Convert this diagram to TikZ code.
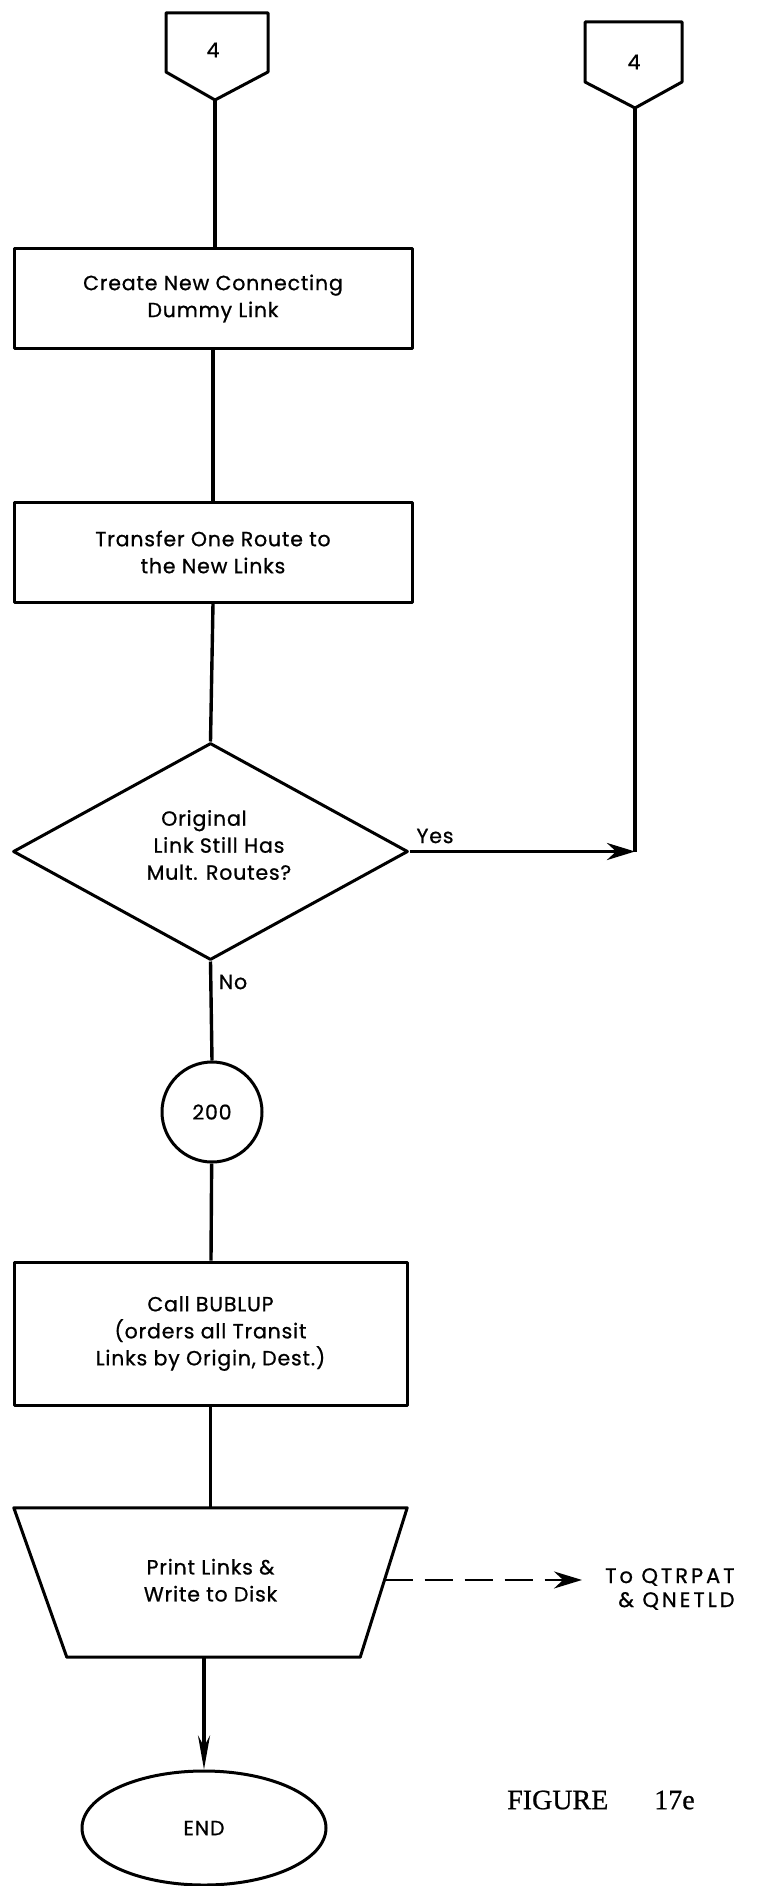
\documentclass[tikz,border=0pt]{standalone}
\usepackage{fontspec}
\setmainfont{Poppins}[LetterSpace=4, UprightFeatures={FakeBold=0.8}]
\newfontfamily\widecaps{Poppins}[LetterSpace=14, UprightFeatures={FakeBold=0.8}]
\newfontfamily\figfont{Liberation Serif}[UprightFeatures={FakeBold=0.8}]
\usetikzlibrary{shapes.geometric,arrows.meta,calc}
\begin{document}
\begin{tikzpicture}[x=1pt,y=-1pt,
  lbl/.style={font=\fontsize{20.5}{27}\selectfont, align=center},
  outline/.style={draw=black, line width=3pt, line join=round},
  proc/.style={outline, lbl, rectangle, inner sep=0pt},
  flow/.style={line width=3.4pt},
  tip/.style={-{Stealth[length=28pt,width=17pt]}},
  endtip/.style={-{Stealth[length=34pt,width=12pt]}},
  linkdash/.style={line width=2.6pt, dash pattern=on 28pt off 12pt}
]
\fill[white] (0,0) rectangle (761,1886);
\useasboundingbox (0,0) rectangle (761,1886);

% off-page connectors
\draw[outline] (166,13) -- (268,13) -- (268,72) -- (215,100) -- (166,72) -- cycle;
\node[lbl] (c1) at (213,50) {4};
\coordinate (c1tip) at (215,100);

\draw[outline] (585,22) -- (682,22) -- (682,82) -- (635,108) -- (585,82) -- cycle;
\node[lbl] (c2) at (634,62) {4};
\coordinate (c2tip) at (635,108);

% process boxes
\node[proc, minimum width=398pt, minimum height=99pt] (b1) at (213,298.5)
  {Create New Connecting\\Dummy Link};
\node[proc, minimum width=398pt, minimum height=100pt] (b2) at (213,552)
  {Transfer One Route to\\the New Links};

% decision
\node[outline, diamond, minimum width=395pt, minimum height=217pt, inner sep=0pt]
  (d) at (210.5,851.5) {};
\node[lbl] (dt) at (219,845) {Original\hspace*{30pt}\\Link Still Has\\Mult. Routes?};
\node[lbl] (yes) at (435,836) {Yes};
\node[lbl] (no) at (233,982) {No};

% connector 200
\node[outline, circle, lbl, minimum size=100pt, inner sep=0pt] (k) at (212,1112) {200};

\node[proc, minimum width=393pt, minimum height=143pt] (b3) at (210.5,1333.5)
  {Call BUBLUP\\(orders all Transit\\Links by Origin, Dest.)};

% output (trapezoid)
\node[lbl, minimum width=393pt, minimum height=149pt, inner sep=0pt] (t) at (210.5,1582.5)
  {\raisebox{4pt}{\begin{tabular}{@{}c@{}}Print Links \&\\Write to Disk\end{tabular}}};
\draw[outline] (t.north west) -- (t.north east) -- ($(t.south east)+(-47,0)$)
  -- ($(t.south west)+(53,0)$) -- cycle;
\coordinate (te) at ($(t.north east)!0.483!($(t.south east)+(-47,0)$)$);

\node[lbl, font=\widecaps\fontsize{21}{24}\selectfont, align=right, anchor=west, inner sep=0pt]
  (dest) at (605,1589) {To QTRPAT\\\& QNETLD};

% terminal
\node[outline, ellipse, lbl, minimum width=244pt, minimum height=114pt, inner sep=0pt]
  (e) at (204,1828) {END};

\node[font=\figfont\fontsize{28}{32}\selectfont, anchor=west, inner sep=0pt] (fig) at (507,1800)
  {FIGURE\hspace{46pt}17e};

% flow lines
\draw[flow] (c1tip) -- (c1tip |- b1.north);
\draw[flow] (b1) -- (b2);
\draw[flow] (b2.south) -- (d.north);
\draw[flow] (d.south) -- (k.north);
\draw[flow] (k) -- (b3);
\draw[flow] (b3) -- (t.north);
\draw[flow, endtip] (e.north |- t.south) -- (e.north);

\coordinate (corner) at (c2tip |- d.east);
\draw[flow] (c2tip) -- (corner);
\draw[flow, tip] (d.east) -- (corner);

\draw[linkdash, tip, shorten >=23pt] (te) -- (te -| dest.west);
\end{tikzpicture}
\end{document}
